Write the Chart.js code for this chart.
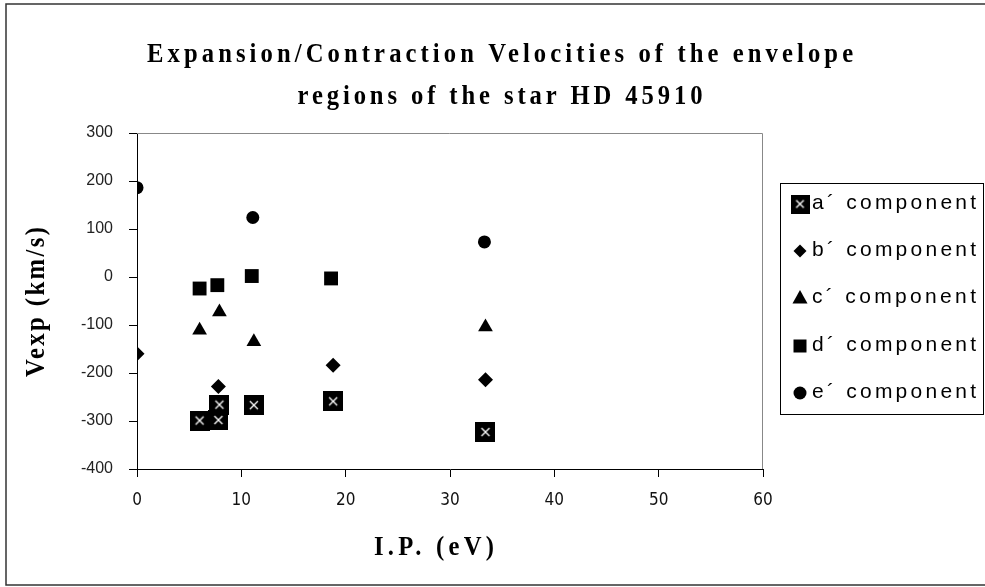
<!DOCTYPE html>
<html>
<head>
<meta charset="utf-8">
<title>Expansion/Contraction Velocities - HD 45910</title>
<script src="https://cdn.jsdelivr.net/npm/chart.js"></script>
<style>
  html, body { margin: 0; padding: 0; background: #fff; }
  canvas { display: block; }
</style>
</head>
<body>
<canvas id="myChart" width="985" height="587"></canvas>
<script>
const titleLines = ["Expansion/Contraction Velocities of the envelope", "regions of the star HD 45910"];
const xTitle = "I.P. (eV)";
const yTitle = "Vexp (km/s)";
const seriesNames = ["a\u00b4 component", "b\u00b4 component", "c\u00b4 component", "d\u00b4 component", "e\u00b4 component"];

// I.P. (eV) and Vexp (km/s)
const aX = [6.0, 7.8, 7.9, 11.2, 18.8, 33.4];
const aY = [-299, -298, -266, -267, -259, -323];
const bX = [0, 7.8, 18.8, 33.4];
const bY = [-160, -228, -184, -214];
const cX = [6.0, 7.9, 11.2, 33.4];
const cY = [-111, -73, -135, -104];
const dX = [6.0, 7.7, 11.0, 18.6];
const dY = [-24, -17, 2, -3];
const eX = [0, 11.1, 33.3];
const eY = [186, 124, 73];

const xTicks = [0, 10, 20, 30, 40, 50, 60];
const yTicks = [300, 200, 100, 0, -100, -200, -300, -400];

const toPoints = (xs, ys) => xs.map((x, i) => ({ x: x, y: ys[i] }));

// black square with a white cross, used for the a' series
const makeCrossBox = (size) => {
  const c = document.createElement("canvas");
  c.width = size;
  c.height = size;
  const g = c.getContext("2d");
  g.fillStyle = "#000";
  g.fillRect(0, 0, size, size);
  g.strokeStyle = "#fff";
  g.lineWidth = 1.3;
  const m = size * 0.3;
  g.beginPath();
  g.moveTo(m, m);
  g.lineTo(size - m, size - m);
  g.moveTo(size - m, m);
  g.lineTo(m, size - m);
  g.stroke();
  return c;
};
const crossBox = makeCrossBox(20);
const crossBoxSmall = makeCrossBox(19);

// draws text centred on (cx, cy), squeezed and spaced out to a given width
const fitText = (ctx, text, cx, cy, width, font, squeeze, angle) => {
  ctx.save();
  ctx.font = font;
  ctx.fillStyle = "#000";
  ctx.textBaseline = "middle";
  ctx.textAlign = "left";
  ctx.translate(cx, cy);
  ctx.rotate(angle || 0);
  ctx.scale(squeeze, 1);
  if ("letterSpacing" in ctx) ctx.letterSpacing = "0px";
  const natural = ctx.measureText(text).width;
  const gap = (width / squeeze - natural) / (text.length - 1);
  if ("letterSpacing" in ctx) ctx.letterSpacing = gap.toFixed(2) + "px";
  ctx.fillText(text, -width / squeeze / 2, 0);
  ctx.restore();
};

const drawSymbol = (ctx, kind, x, y) => {
  ctx.save();
  ctx.fillStyle = "#000";
  ctx.beginPath();
  if (kind === 0) {
    ctx.drawImage(crossBoxSmall, x - 9.5, y - 9.5);
  } else if (kind === 1) {
    ctx.moveTo(x - 6.5, y); ctx.lineTo(x, y - 6.5); ctx.lineTo(x + 6.5, y); ctx.lineTo(x, y + 6.5);
  } else if (kind === 2) {
    ctx.moveTo(x, y - 8); ctx.lineTo(x + 7.5, y + 5.5); ctx.lineTo(x - 7.5, y + 5.5);
  } else if (kind === 3) {
    ctx.rect(x - 6.5, y - 6.5, 13, 13);
  } else {
    ctx.arc(x, y, 6.5, 0, Math.PI * 2);
  }
  ctx.closePath();
  ctx.fill();
  ctx.restore();
};

const decorations = {
  id: "decorations",
  afterDraw(chart) {
    const ctx = chart.ctx;
    const area = chart.chartArea;

    // outer frame
    ctx.save();
    ctx.strokeStyle = "#333";
    ctx.lineWidth = 1.5;
    ctx.strokeRect(6, 4, 990, 581);
    // plot area frame (top and right)
    ctx.strokeStyle = "#888";
    ctx.lineWidth = 1;
    ctx.beginPath();
    ctx.moveTo(area.left, area.top + 0.5);
    ctx.lineTo(area.right - 0.5, area.top + 0.5);
    ctx.lineTo(area.right - 0.5, area.bottom);
    ctx.stroke();
    ctx.restore();

    const serif = 'bold 28px "Liberation Serif", "Times New Roman", serif';
    fitText(ctx, titleLines[0], 500, 55, 706, serif, 0.88);
    fitText(ctx, titleLines[1], 500, 97, 405, serif, 0.88);
    fitText(ctx, yTitle, 37, 302, 150, serif, 0.88, -Math.PI / 2);
    fitText(ctx, xTitle, 434, 548, 120, serif, 0.88);

    // legend
    ctx.save();
    ctx.strokeStyle = "#000";
    ctx.lineWidth = 1;
    ctx.fillStyle = "#fff";
    ctx.fillRect(780.5, 183.5, 203, 231);
    ctx.strokeRect(780.5, 183.5, 203, 231);
    ctx.restore();
    const rowY = [204, 251, 298, 346, 393];
    seriesNames.forEach((name, i) => {
      drawSymbol(ctx, i, 800, rowY[i]);
      fitText(ctx, name, 812 + 82, rowY[i] - 1, 164, '21px "Liberation Sans", Arial, sans-serif', 1);
    });
  }
};

const pointBase = {
  showLine: false,
  backgroundColor: "#000",
  borderColor: "#000",
  borderWidth: 0,
};

const ctx = document.getElementById("myChart").getContext("2d");
const myChart = new Chart(ctx, {
  type: "scatter",
  data: {
    datasets: [
      { ...pointBase, label: seriesNames[0], data: toPoints(aX, aY), pointStyle: crossBox, order: 5 },
      { ...pointBase, label: seriesNames[1], data: toPoints(bX, bY), pointStyle: "rectRot", pointRadius: 7.5, order: 4 },
      { ...pointBase, label: seriesNames[2], data: toPoints(cX, cY), pointStyle: "triangle", pointRadius: 8.5, order: 3 },
      { ...pointBase, label: seriesNames[3], data: toPoints(dX, dY), pointStyle: "rect", pointRadius: 9.8, order: 2 },
      { ...pointBase, label: seriesNames[4], data: toPoints(eX, eY), pointStyle: "circle", pointRadius: 6.5, order: 1 },
    ],
  },
  options: {
    responsive: false,
    animation: false,
    events: [],
    layout: { padding: { left: 0, top: 133, right: 222, bottom: 0 } },
    plugins: {
      legend: { display: false },
      title: { display: false },
      tooltip: { enabled: false },
    },
    scales: {
      x: {
        type: "linear",
        min: xTicks[0],
        max: xTicks[xTicks.length - 1],
        afterFit: (scale) => { scale.height = 118; },
        afterBuildTicks: (scale) => { scale.ticks = xTicks.map((v) => ({ value: v })); },
        grid: { drawOnChartArea: false, drawTicks: true, tickLength: 8, color: "#000" },
        border: { color: "#000", width: 1 },
        ticks: {
          padding: 13,
          color: "#111",
          maxRotation: 0,
          font: { family: '"Liberation Sans Narrow", "Arial Narrow", "DejaVu Sans Condensed", "Liberation Sans", sans-serif', size: 17 },
        },
      },
      y: {
        type: "linear",
        min: yTicks[yTicks.length - 1],
        max: yTicks[0],
        afterFit: (scale) => { scale.width = 137; },
        afterBuildTicks: (scale) => { scale.ticks = yTicks.slice().reverse().map((v) => ({ value: v })); },
        grid: { drawOnChartArea: false, drawTicks: true, tickLength: 8, color: "#000" },
        border: { color: "#000", width: 1 },
        ticks: {
          padding: 16,
          color: "#222",
          font: { family: '"Liberation Sans", Arial, sans-serif', size: 16 },
        },
      },
    },
  },
  plugins: [decorations],
});
</script>
</body>
</html>
